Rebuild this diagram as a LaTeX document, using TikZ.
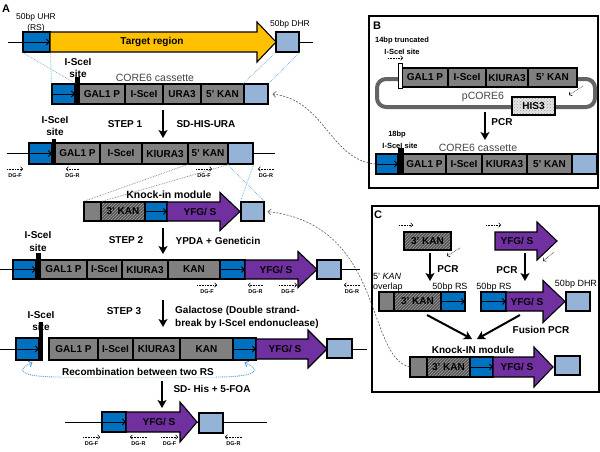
\documentclass[tikz,border=0pt]{standalone}
\usepackage{fontspec}
\setmainfont{Liberation Sans}
\usetikzlibrary{arrows.meta,patterns,calc}
\definecolor{rsblue}{RGB}{0,112,192}
\definecolor{dhrblue}{RGB}{149,179,215}
\definecolor{yfgpurple}{RGB}{112,48,160}
\definecolor{tgtorange}{RGB}{255,192,0}
\definecolor{boxgray}{RGB}{128,128,128}
\definecolor{hatchgray}{RGB}{85,85,85}
\definecolor{textgray}{RGB}{70,70,70}
\definecolor{plasgray}{RGB}{100,100,100}
\tikzset{
  seg/.style={draw, line width=1.1pt, inner sep=0pt, font=\bfseries\fontsize{10}{11}\selectfont},
  gbox/.style={seg, fill=boxgray},
  rsbox/.style={seg, fill=rsblue},
  dhrbox/.style={seg, fill=dhrblue},
  hbox/.style={seg, preaction={fill=hatchgray}, pattern=north east lines, pattern color=gray!75},
  hisbox/.style={seg, preaction={fill=gray!20}, pattern=crosshatch dots, pattern color=gray!80},
  sitebar/.style={draw, fill=black, line width=0.4pt, inner sep=0pt},
  whitebar/.style={draw, fill=white, line width=0.7pt, inner sep=0pt},
  frame/.style={draw, line width=1.2pt, inner sep=0pt},
  lbl/.style={font=\bfseries\fontsize{10}{11}\selectfont, inner sep=0pt},
  rlbl/.style={font=\fontsize{8.5}{9}\selectfont, inner sep=0pt},
  clbl/.style={font=\fontsize{10.5}{11}\selectfont, text=textgray, inner sep=0pt},
  slbl/.style={font=\bfseries\fontsize{7.5}{8}\selectfont, inner sep=0pt},
  tlbl/.style={font=\bfseries\fontsize{5.5}{6}\selectfont, inner sep=0pt},
  panel/.style={font=\bfseries\fontsize{11}{12}\selectfont, inner sep=0pt},
  dna/.style={line width=1pt},
  steparrow/.style={line width=2pt, -{Stealth[length=8pt,width=9pt,inset=2pt]}},
  rsarrow/.style={line width=0.9pt, -{Straight Barb[length=3pt,width=6pt]}},
  primer/.style={densely dotted, line width=0.6pt, -{Straight Barb[length=2pt,width=4.5pt]}},
  mapblue/.style={densely dotted, line width=0.7pt, rsblue!60!white},
  mapgray/.style={densely dotted, line width=0.7pt, gray},
  recomb/.style={densely dotted, line width=0.9pt, rsblue!70!white, {Straight Barb[length=3pt,width=6pt]}-{Straight Barb[length=3pt,width=6pt]}},
  link/.style={dash pattern=on 2pt off 1.5pt, line width=0.6pt, gray!70!black, -{Straight Barb[length=3pt,width=6pt]}},
}
% box from x1 to x2, y1 to y2
\newcommand\bx[7]{\node[#2, minimum width={(#4)-(#3)}, minimum height={(#6)-(#5)}] (#1) at ({((#3)+(#4))/2},{((#5)+(#6))/2}) {#7};}
% RS box with arrow
\newcommand\rsb[5]{\bx{#1}{rsbox}{#2}{#3}{#4}{#5}{}\draw[rsarrow] ([xshift=1.5pt]#1.west) -- ([xshift=-0.6pt]#1.east);}
% block arrow: fill, x1, head start, tip, y centre, body half, head half
\newcommand\harr[7]{\draw[fill=#1, line width=1.1pt, line join=miter] ({#2},{#5-#6}) -- ({#3},{#5-#6}) -- ({#3},{#5-#7}) -- ({#4},{#5}) -- ({#3},{#5+#7}) -- ({#3},{#5+#6}) -- ({#2},{#5+#6}) -- cycle;}
% primer: name, x from, x to, y, label
\newcommand\primer[5]{\coordinate (#1a) at (#2,#4); \coordinate (#1b) at (#3,#4); \draw[primer] (#1a) -- (#1b); \node[tlbl] (#1) at ({(#2+#3)/2},{#4+6.5}) {#5};}
% step arrow: name, x, y1, y2
\newcommand\steparr[4]{\coordinate (#1a) at (#2,#3); \coordinate (#1b) at (#2,#4); \draw[steparrow] (#1a) -- (#1b);}
\newcommand\dnaline[4]{\coordinate (#1a) at (#2,#4); \coordinate (#1b) at (#3,#4); \draw[dna] (#1a) -- (#1b);}

\begin{document}
\begin{tikzpicture}[x=1pt,y=-1pt]
\useasboundingbox[fill=white] (0,0) rectangle (600,451);

%================ PANEL A =================
\node[panel] (pA) at (6,9) {A};

% Row 1 : target locus
\dnaline{r1}{8}{313}{42}
\rsb{uhr}{23}{50}{32}{52}
\harr{tgtorange}{50}{257}{276}{42}{10}{20}
\node[lbl] (target) at (152,42) {Target region};
\bx{dhr}{dhrbox}{276}{299}{32}{52}{}
\node[rlbl] (uhrlbl) at (36,17) {50bp UHR};
\node[rlbl] (rslbl) at (36,28) {(RS)};
\node[rlbl] (dhrlbl) at (290,24) {50bp DHR};

% Row 2 : CORE6 cassette
\rsb{c1rs}{52}{75}{84}{104}
\bx{c1gal}{gbox}{79}{125}{84}{104}{GAL1 P}
\bx{c1sce}{gbox}{125}{163}{84}{104}{I-SceI}
\bx{c1ura}{gbox}{163}{201}{84}{104}{URA3}
\bx{c1kan}{gbox}{201}{244}{84}{104}{5' KAN}
\bx{c1lb}{dhrbox}{244}{268}{84}{104}{}
\bx{c1site}{sitebar}{75}{79}{77}{104}{}
\node[lbl] (c1s1) at (78,62) {I-SceI};
\node[lbl] (c1s2) at (78,74) {site};
\node[clbl] (c1name) at (155,78) {CORE6 cassette};
\draw[mapblue] (uhr.south west) -- (c1rs.north east);
\draw[mapblue] (uhr.south east) -- (c1rs.north west);
\draw[mapblue] (dhr.south west) -- (c1lb.north west);
\draw[mapblue] (dhr.south east) -- (c1lb.north east);

% Step 1
\steparr{s1}{163}{110}{138}
\node[lbl] (s1t) at (125,124) {STEP 1};
\node[lbl] (s1c) at (206,124) {SD-HIS-URA};

% Row 3
\dnaline{r3}{7}{275}{153.5}
\rsb{r3rs}{29}{52}{143}{164}
\bx{r3gal}{gbox}{55}{100}{143}{164}{GAL1 P}
\bx{r3sce}{gbox}{100}{142}{143}{164}{I-SceI}
\bx{r3ura}{gbox}{142}{188}{143}{164}{KlURA3}
\bx{r3kan}{gbox}{188}{228}{143}{164}{5' KAN}
\bx{r3lb}{dhrbox}{228}{253}{143}{164}{}
\bx{r3site}{sitebar}{52}{55}{139}{164}{}
\node[lbl] (r3s1) at (55,120) {I-SceI};
\node[lbl] (r3s2) at (55,132) {site};
\primer{p31}{7}{23}{169}{DG-F}
\primer{p32}{79}{66}{169}{DG-R}
\primer{p33}{196}{212}{169}{DG-F}
\primer{p34}{274}{258}{169}{DG-R}

% Row 4 : knock-in module
\node[lbl, font=\bfseries\fontsize{10.5}{11}\selectfont] (kname) at (169,195) {Knock-in module};
\bx{kgray}{gbox}{84}{101}{202}{221}{}
\bx{kkan}{hbox}{101}{145}{202}{221}{3' KAN}
\rsb{krs}{145}{167}{202}{221}
\harr{yfgpurple}{167}{220}{240}{211.5}{9.5}{19}
\node[lbl] (kyfg) at (200,211.5) {YFG/ S};
\bx{klb}{dhrbox}{241}{264}{202}{221}{}
\draw[mapgray] (r3kan.south west) -- (kgray.north west);
\draw[mapgray] (r3kan.south east) -- (kgray.north east);
\draw[mapblue] (r3lb.south west) -- (klb.north east);
\draw[mapblue] (r3lb.south east) -- (klb.north west);

% Step 2
\steparr{s2}{163}{228}{254}
\node[lbl] (s2t) at (126,240) {STEP 2};
\node[lbl] (s2c) at (218,241) {YPDA + Geneticin};

% Row 5
\dnaline{r5}{0}{360}{269.5}
\rsb{r5rs1}{13}{36}{260}{279}
\bx{r5gal}{gbox}{40}{87}{260}{279}{GAL1 P}
\bx{r5sce}{gbox}{87}{122}{260}{279}{I-SceI}
\bx{r5ura}{gbox}{122}{168}{260}{279}{KlURA3}
\bx{r5kan}{gbox}{168}{220}{260}{279}{KAN}
\rsb{r5rs2}{220}{245}{260}{279}
\harr{yfgpurple}{245}{298}{317}{269.5}{9.5}{18}
\node[lbl] (r5yfg) at (276,269.5) {YFG/ S};
\bx{r5lb}{dhrbox}{317}{341}{260}{279}{}
\bx{r5site}{sitebar}{36}{40}{253}{279}{}
\node[lbl] (r5s1) at (38,235) {I-SceI};
\node[lbl] (r5s2) at (38,248) {site};
\primer{p51}{197}{217}{285}{DG-F}
\primer{p52}{263}{248}{285}{DG-R}
\primer{p53}{279}{297}{285}{DG-F}
\primer{p54}{360}{344}{285}{DG-R}

% Step 3
\steparr{s3}{163}{300}{327}
\node[lbl] (s3t) at (124,311) {STEP 3};
\node[lbl, anchor=west] (s3c1) at (175,311) {Galactose (Double strand-};
\node[lbl, anchor=west] (s3c2) at (175,323.5) {break by I-SceI endonuclease)};

% Row 6
\dnaline{r6l}{0}{16}{349}
\dnaline{r6r}{352}{367}{349}
\rsb{r6rs1}{16}{39}{338}{360}
\bx{r6gal}{gbox}{49}{98}{338}{360}{GAL1 P}
\bx{r6sce}{gbox}{98}{133}{338}{360}{I-SceI}
\bx{r6ura}{gbox}{133}{180}{338}{360}{KlURA3}
\bx{r6kan}{gbox}{180}{233}{338}{360}{KAN}
\rsb{r6rs2}{233}{256}{338}{360}
\harr{yfgpurple}{256}{308}{327}{349}{10}{19}
\node[lbl] (r6yfg) at (285,349) {YFG/ S};
\bx{r6lb}{dhrbox}{327}{352}{339}{358}{}
\bx{r6site}{sitebar}{39}{42}{322}{360}{}
\node[lbl] (r6s1) at (41,315) {I-SceI};
\node[lbl] (r6s2) at (41,327) {site};
\draw[recomb] ([xshift=5pt,yshift=-2pt]r6rs1.south) .. controls (15,370) and (20,377) .. (60,377) -- (215,377) .. controls (258,377) and (262,370) .. ([yshift=-2pt]r6rs2.south);
\node[lbl, fill=white, inner sep=1pt] (recl) at (138,372) {Recombination between two RS};

% Step 4
\steparr{s4}{162}{381}{408}
\node[lbl] (s4c) at (212,389) {SD- His + 5-FOA};

% Row 7
\dnaline{r7}{65}{267}{422}
\rsb{r7rs}{102}{126}{412}{432}
\harr{yfgpurple}{126}{180}{197}{422}{10}{20}
\node[lbl] (r7yfg) at (159,422) {YFG/ S};
\bx{r7lb}{dhrbox}{199}{223}{413}{433}{}
\primer{p71}{83}{100}{437}{DG-F}
\primer{p72}{147}{130}{437}{DG-R}
\primer{p73}{161}{178}{437}{DG-F}
\primer{p74}{242}{225}{437}{DG-R}

%================ PANEL B =================
\bx{panB}{frame}{369}{598}{16}{188}{}
\node[panel] (pB) at (377,26) {B};
\node[slbl] (b14a) at (402,41) {14bp truncated};
\node[slbl] (b14b) at (402,52) {I-SceI site};
\primer{pb1}{388}{403}{58}{}
\coordinate (plA) at (377,79);
\coordinate (plB) at (595,107);
\draw[plasgray, line width=4pt, rounded corners=9pt] (plA) rectangle (plB);
\node[clbl] (pname) at (483,97) {pCORE6};
\bx{his}{hisbox}{512}{555}{97}{115}{HIS3}
\bx{bgal}{gbox}{402}{448}{68}{87}{GAL1 P}
\bx{bsce}{gbox}{448}{486}{68}{87}{I-SceI}
\bx{bura}{gbox}{486}{528}{68}{87}{KlURA3}
\bx{bkan}{gbox}{528}{577}{68}{87}{5' KAN}
\bx{bsite}{whitebar}{398}{402}{63}{88}{}
\draw[primer] (583,86) -- (569,95);
\steparr{sb}{485}{112}{140}
\node[lbl] (bpcr) at (502,122) {PCR};
\node[slbl] (b18a) at (397,135) {18bp};
\node[slbl] (b18b) at (400,146) {I-SceI site};
\node[clbl] (bname) at (478,148) {CORE6 cassette};
\rsb{brs}{376}{398}{154}{174}
\bx{bgal2}{gbox}{403}{446}{154}{174}{GAL1 P}
\bx{bsce2}{gbox}{446}{482}{154}{174}{I-SceI}
\bx{bura2}{gbox}{482}{527}{154}{174}{KlURA3}
\bx{bkan2}{gbox}{527}{572}{154}{174}{5' KAN}
\bx{blb2}{dhrbox}{572}{597}{154}{174}{}
\bx{bbar}{sitebar}{398}{403}{148}{174}{}

%================ PANEL C =================
\bx{panC}{frame}{372}{599}{206}{392}{}
\node[panel] (pC) at (378,215) {C};
\bx{ckan}{hbox}{404}{451}{232}{250}{3' KAN}
\primer{pc1}{399}{413}{225}{}
\draw[primer] (460,248) -- (447,256);
\steparr{sc1}{430}{253}{281}
\node[lbl] (cpcr1) at (448,269) {PCR};
\harr{yfgpurple}{495}{537}{557}{241}{9}{19}
\node[lbl] (cyfg) at (517,241) {YFG/ S};
\primer{pc2}{486}{501}{225}{}
\draw[primer] (554,252) -- (543,261);
\steparr{sc2}{525}{253}{281}
\node[lbl] (cpcr2) at (507,270) {PCR};
\node[rlbl, anchor=west, font=\fontsize{9}{10}\selectfont] (ov1) at (373,276) {5' \textit{KAN}};
\node[rlbl, anchor=west, font=\fontsize{9}{10}\selectfont] (ov2) at (373,287) {overlap};
\node[rlbl, font=\fontsize{9}{10}\selectfont] (rs1l) at (450,287) {50bp RS};
\node[rlbl, font=\fontsize{9}{10}\selectfont] (rs2l) at (494,287) {50bp RS};
\node[rlbl, font=\fontsize{9}{10}\selectfont] (dhrl) at (576,284) {50bp DHR};
\bx{c2gray}{gbox}{379}{394}{292}{311}{}
\bx{c2kan}{hbox}{394}{441}{292}{311}{3' KAN}
\rsb{c2rs1}{441}{465}{292}{311}
\rsb{c2rs2}{481}{506}{292}{311}
\harr{yfgpurple}{506}{543}{565}{301.5}{9.5}{21}
\node[lbl] (c2yfg) at (527,301.5) {YFG/ S};
\bx{c2lb}{dhrbox}{566}{590}{292}{311}{}
\coordinate (fu1) at (427,315);
\coordinate (fu2) at (520,315);
\coordinate (fuL) at (472,339);
\coordinate (fuR) at (477,339);
\draw[steparrow] (fu1) -- (fuL);
\draw[steparrow] (fu2) -- (fuR);
\node[lbl] (fus) at (541,330) {Fusion PCR};
\node[lbl] (kin) at (473,350) {Knock-IN module};
\bx{c3gray}{gbox}{410}{427}{357}{377}{}
\bx{c3kan}{hbox}{427}{470}{357}{377}{3' KAN}
\rsb{c3rs}{470}{493}{357}{377}
\harr{yfgpurple}{493}{534}{553}{367}{10}{20}
\node[lbl] (c3yfg) at (517,367) {YFG/ S};
\bx{c3lb}{dhrbox}{555}{580}{356}{375}{}

%================ LINKS =================
\draw[link] (brs.west) .. controls (330,160) and (325,100) .. ([xshift=4pt]c1lb.east);
\draw[link] (c3gray.west) .. controls (365,355) and (385,225) .. ([xshift=3pt]klb.east);
\end{tikzpicture}
\end{document}
